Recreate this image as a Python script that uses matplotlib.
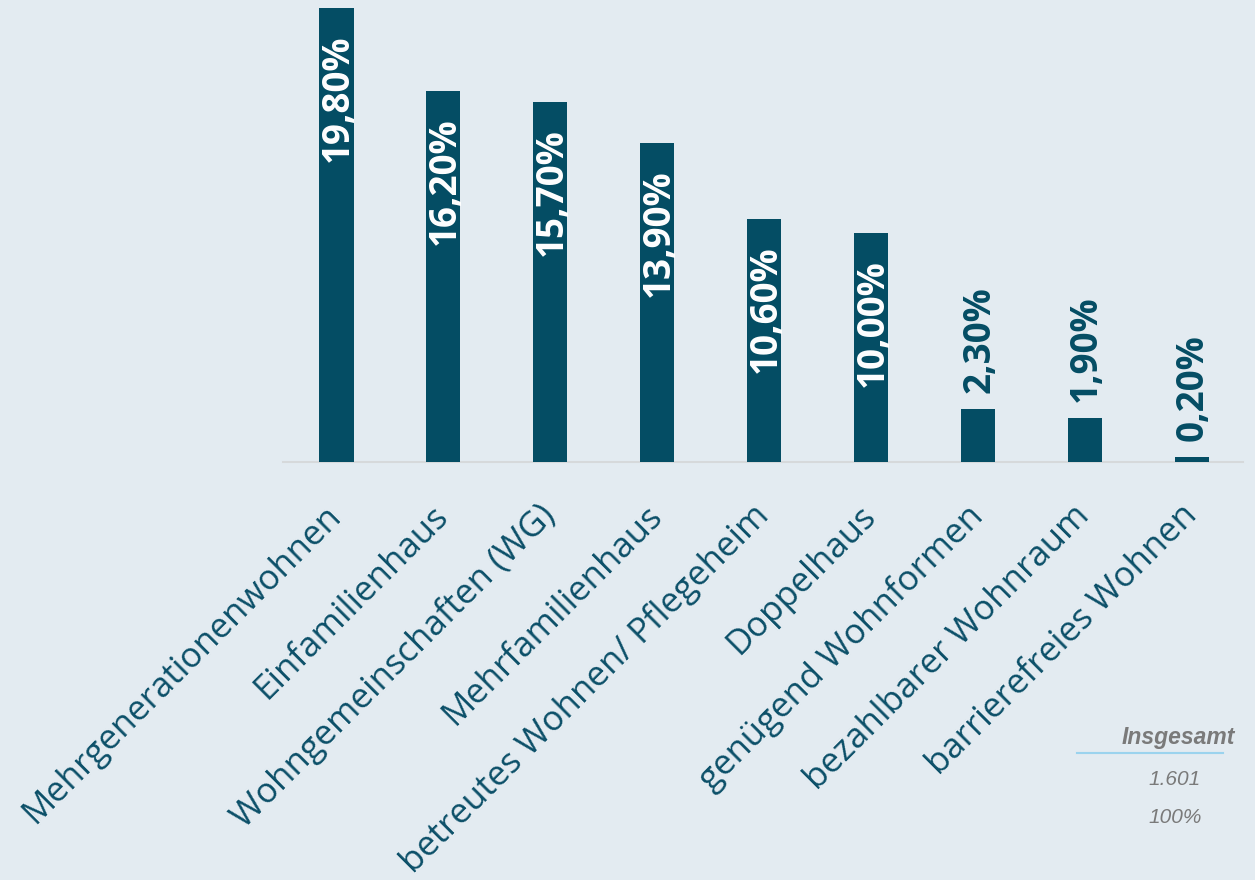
import matplotlib
matplotlib.use("Agg")
import matplotlib.pyplot as plt

categories = ["Mehrgenerationenwohnen", "Einfamilienhaus", "Wohngemeinschaften (WG)",
              "Mehrfamilienhaus", "betreutes Wohnen/ Pflegeheim", "Doppelhaus",
              "genügend Wohnformen", "bezahlbarer Wohnraum", "barrierefreies Wohnen"]
values = [19.8, 16.2, 15.7, 13.9, 10.6, 10.0, 2.3, 1.9, 0.2]
total_label = "Insgesamt"
total_n = "1.601"
total_pct = "100%"

BG = "#E3EBF1"
BAR = "#044D64"
TXT = "#0B4F68"
GREY = "#7A7A7A"

fig = plt.figure(figsize=(12.55, 8.8), dpi=100, facecolor=BG)
ax = fig.add_axes([283/1255, (880-462)/880, (1243-283)/1255, 462/880])
ax.set_facecolor(BG)

x = list(range(len(values)))
bars = ax.bar(x, values, width=0.32, color=BAR, zorder=3)
ax.set_xlim(-0.5, 8.48)
ax.set_ylim(0, 20.15)

for s in ["top", "right", "left"]:
    ax.spines[s].set_visible(False)
ax.spines["bottom"].set_color("#D6D9DB")
ax.spines["bottom"].set_linewidth(1.5)
ax.set_yticks([])
ax.tick_params(axis="x", length=0, pad=35)
ax.set_xticks(x)
ax.set_xticklabels(categories, rotation=45, ha="right", va="center",
                   rotation_mode="anchor", fontsize=25, color=TXT,
                   fontfamily="Open Sans", fontweight="normal")

for xi, v in zip(x, values):
    lab = f"{v:.2f}".replace(".", ",") + "%"
    if v >= 10:
        ax.annotate(lab, (xi, v), xytext=(1, -19), textcoords="offset points",
                    rotation=90, ha="center", va="top", color="white",
                    fontsize=26.5, fontweight="bold", fontfamily="Open Sans", zorder=4)
    else:
        ax.annotate(lab, (xi, v), xytext=(1, 12), textcoords="offset points",
                    rotation=90, ha="center", va="bottom", color=BAR,
                    fontsize=26.5, fontweight="bold", fontfamily="Open Sans", zorder=4)

fig.text(1235/1255, 1 - 737/880, total_label, ha="right", va="center",
         fontsize=16.5, fontweight="bold", style="italic", color=GREY,
         fontfamily="Liberation Sans")
fig.add_artist(plt.Line2D([1077/1255, 1223/1255], [1 - 753/880, 1 - 753/880],
                          color="#9BD3EE", linewidth=1.5))
fig.text(1175/1255, 1 - 779/880, total_n, ha="center", va="center",
         fontsize=15, style="italic", color=GREY, fontfamily="Liberation Sans")
fig.text(1175/1255, 1 - 817/880, total_pct, ha="center", va="center",
         fontsize=15, style="italic", color=GREY, fontfamily="Liberation Sans")

fig.savefig("out.png", dpi=100, facecolor=BG)
